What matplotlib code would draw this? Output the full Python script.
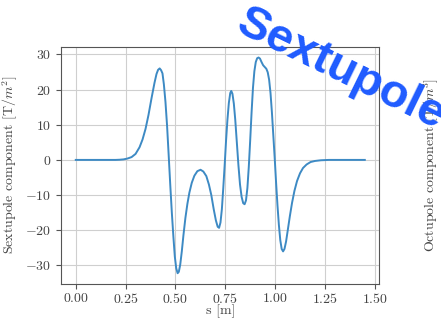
import matplotlib
matplotlib.use("Agg")
import matplotlib.pyplot as plt

plt.rcParams.update({
    "font.family": "serif",
    "font.serif": ["cmr10"],
    "mathtext.fontset": "cm",
    "axes.formatter.use_mathtext": True,
    "font.size": 10,
})

# longitudinal position along the magnet [m]
s = [0.000, 0.100, 0.200, 0.220, 0.240, 0.260, 0.280, 0.300, 0.320, 0.335,
     0.350, 0.365, 0.380, 0.395, 0.405, 0.413, 0.421, 0.428, 0.435, 0.442,
     0.450, 0.458, 0.466, 0.474, 0.482, 0.490, 0.497, 0.504, 0.511, 0.517,
     0.524, 0.532, 0.540, 0.550, 0.560, 0.570, 0.582, 0.595, 0.610, 0.626,
     0.640, 0.655, 0.668, 0.680, 0.692, 0.703, 0.712, 0.719, 0.726, 0.733,
     0.740, 0.747, 0.754, 0.761, 0.768, 0.775, 0.780, 0.786, 0.793, 0.800,
     0.808, 0.816, 0.824, 0.832, 0.840, 0.847, 0.854, 0.861, 0.868, 0.875,
     0.882, 0.889, 0.896, 0.903, 0.910, 0.917, 0.924, 0.932, 0.940, 0.948,
     0.956, 0.963, 0.970, 0.977, 0.984, 0.991, 0.998, 1.005, 1.012, 1.019,
     1.026, 1.033, 1.040, 1.047, 1.055, 1.064, 1.074, 1.085, 1.097, 1.110,
     1.125, 1.140, 1.158, 1.178, 1.200, 1.230, 1.270, 1.350, 1.450]
# sextupole component [T/m^2]
b3 = [0.0, 0.0, 0.0, 0.05, 0.15, 0.4, 0.8, 1.7, 3.6, 5.8,
      8.8, 12.8, 17.5, 21.9, 24.4, 25.6, 26.0, 25.5, 24.6, 21.5,
      16.5, 9.8, 1.5, -7.0, -15.0, -22.0, -27.5, -30.8, -32.2, -31.8,
      -29.8, -26.0, -21.5, -16.5, -12.5, -9.3, -6.5, -4.5, -3.2, -2.8,
      -3.3, -4.6, -7.0, -10.0, -14.0, -17.2, -19.0, -19.3, -17.8, -14.0,
      -8.0, -1.5, 5.5, 11.5, 16.2, 19.0, 19.6, 18.8, 16.0, 11.5,
      5.0, -1.5, -7.0, -10.5, -12.3, -12.6, -11.5, -8.0, -2.0, 5.5,
      13.5, 20.5, 25.2, 27.8, 28.9, 29.1, 28.8, 27.8, 26.9, 26.4,
      25.9, 24.9, 22.8, 19.0, 13.5, 7.0, 0.5, -6.5, -13.0, -18.5,
      -22.8, -25.3, -26.0, -25.3, -23.2, -19.8, -16.0, -12.2, -8.8, -6.0,
      -3.8, -2.3, -1.3, -0.6, -0.3, -0.1, 0.0, 0.0, 0.0]

fig = plt.figure(figsize=(4.41, 3.2), dpi=100)
ax = fig.add_axes([0.139, 0.1125, 0.721, 0.7415])

ax.plot(s, b3, color="#3d8ac4", lw=1.4)
ax.set_xticks([0.0, 0.25, 0.5, 0.75, 1.0, 1.25, 1.5])
ax.set_yticks([-30, -20, -10, 0, 10, 20, 30])
ax.grid(True, color="#cfcfcf", lw=0.8)
ax.set_axisbelow(True)
for sp in ax.spines.values():
    sp.set_color("#555555")
ax.tick_params(colors="#555555", labelcolor="#444444", length=3.5)
ax.tick_params(axis="x", pad=2.5)
ax.set_xlabel("s [m]", color="#444444", labelpad=-1)
ax.set_ylabel(r"Sextupole component $[\mathrm{T}/m^2]$", color="#444444")

ax2 = ax.twinx()
ax2.set_yticks([])
for sp in ax2.spines.values():
    sp.set_visible(False)
ax2.set_ylabel(r"Octupole component $[\mathrm{T}/m^3]$", color="#444444",
               labelpad=31)

fig.text(341 / 441, 1 - 70 / 320, "Sextupole", color="#1f5bff",
         fontsize=34, fontweight="bold", family="Liberation Sans",
         rotation=-26, rotation_mode="anchor", ha="center", va="center")

fig.savefig("out.png", dpi=100)
